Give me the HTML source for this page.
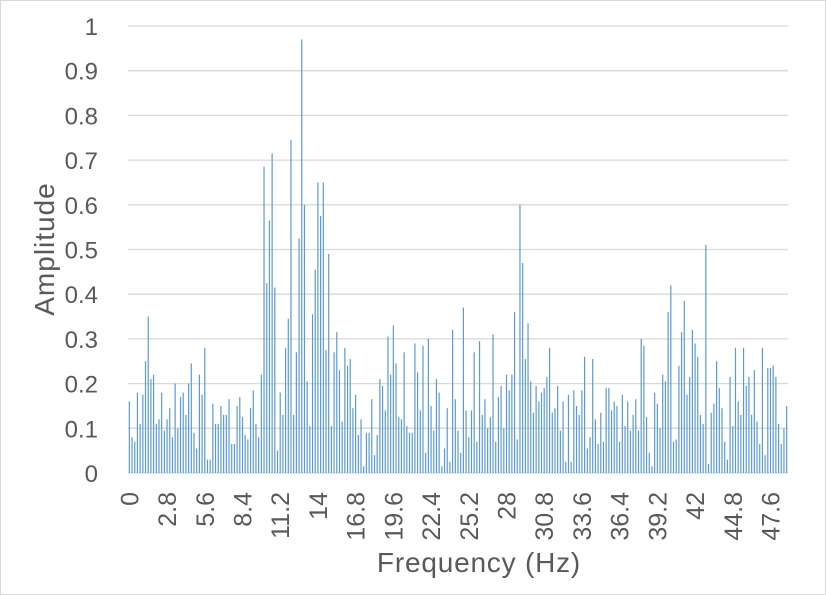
<!DOCTYPE html>
<html><head><meta charset="utf-8"><style>
body{margin:0;background:#fff;}
svg{display:block;font-family:"Liberation Sans",sans-serif;}
</style></head><body>
<svg id="chart" width="826" height="595" viewBox="0 0 826 595" xmlns="http://www.w3.org/2000/svg">
<rect x="0.5" y="0.5" width="825" height="594" fill="#fff" stroke="#d9d9d9"/>
<g id="grid"></g>
<g id="bars"></g>
<g id="yticks"></g>
<g id="xticks"></g>
<text transform="translate(54,249) rotate(-90)" text-anchor="middle" font-size="28" letter-spacing="1" fill="#595959">Amplitude</text>
<text x="479" y="572" text-anchor="middle" font-size="28" letter-spacing="0.8" fill="#595959">Frequency (Hz)</text>
</svg>
<script>
const amplitudes = [
.16,.08,.07,.18,.11,.175,.25,.35,.21,.22,.11,.12,.18,.095,.12,.145,.08,.2,.1,.17,.18,.13,.2,.245,.09,.055,.22,.175,.28,.03,.03,.155,.11,.11,.15,.13,.13,.165,.065,.065,.15,.17,.125,.085,.075,.145,.185,.11,.08,.22,.685,.425,.565,.715,.415,.05,.18,.13,.28,.345,.745,.13,.27,.525,
.97,.6,.205,.105,.355,.455,.65,.575,.65,.275,.49,.105,.27,.315,.23,.115,.28,.24,.255,.145,.175,.085,.12,.015,.09,.09,.165,.04,.085,.21,.195,.14,.305,.22,.33,.245,.125,.12,.27,.105,.09,.09,.29,.225,.14,.285,.045,.3,.15,.095,.21,.18,.015,.055,.145,.025,.32,.165,.095,.045,.37,.14,.08,
.14,.27,.07,.295,.13,.165,.1,.125,.31,.07,.17,.195,.1,.22,.185,.22,.36,.075,.6,.47,.255,.335,.205,.135,.195,.16,.18,.19,.215,.28,.135,.145,.195,.095,.16,.025,.175,.025,.185,.15,.13,.185,.26,.055,.08,.255,.12,.065,.135,.07,.19,.19,.14,.16,.15,.07,.175,.105,.16,.095,.13,.165,.095,
.3,.285,.125,.045,.015,.18,.155,.1,.22,.205,.36,.42,.07,.075,.24,.315,.385,.175,.215,.32,.29,.26,.13,.11,.51,.02,.135,.155,.25,.19,.145,.07,.03,.215,.105,.28,.16,.13,.28,.195,.215,.13,.23,.115,.065,.28,.04,.235,.235,.24,.215,.11,.065,.1,.15
];
const frequencies = amplitudes.map((v,i)=>(i*0.2).toFixed(1));
const yTickValues = [0,0.1,0.2,0.3,0.4,0.5,0.6,0.7,0.8,0.9,1];
const xTickLabels = ["0","2.8","5.6","8.4","11.2","14","16.8","19.6","22.4","25.2","28","30.8","33.6","36.4","39.2","42","44.8","47.6"];

const NS="http://www.w3.org/2000/svg";
const plotL=128, plotR=788, y0=473, y1=26;
const step=(plotR-plotL)/amplitudes.length;
const xPos=i=>plotL+step*(i+0.5);
const yPos=v=>y0-(y0-y1)*v;
function mk(tag,attrs,parent){const e=document.createElementNS(NS,tag);for(const k in attrs)e.setAttribute(k,attrs[k]);parent.appendChild(e);return e;}

const grid=document.getElementById('grid'), yt=document.getElementById('yticks');
yTickValues.forEach(v=>{
  const l=mk('line',{x1:plotL,x2:plotR,y1:yPos(v),y2:yPos(v),stroke:'#d9d9d9','stroke-width':1.3},grid);
  
  
  const t=mk('text',{x:98,y:yPos(v)+9,'text-anchor':'end','font-size':24,fill:'#595959'},yt);
  t.textContent=String(v);
  
  
});
const bars=document.getElementById('bars');
amplitudes.forEach((v,i)=>{
  const b=mk('rect',{x:xPos(i)-0.6,y:yPos(v),width:1.2,height:y0-yPos(v),fill:'#5b9bd5'},bars);
  
  
});
const xt=document.getElementById('xticks');
xTickLabels.forEach(lbl=>{
  const i=Math.round(parseFloat(lbl)/0.2);
  const x=xPos(i)+9;
  const t=mk('text',{transform:`translate(${x},492) rotate(-90)`,'text-anchor':'end','font-size':25,fill:'#595959'},xt);
  t.textContent=lbl;
  
  
});
</script>
</body></html>
